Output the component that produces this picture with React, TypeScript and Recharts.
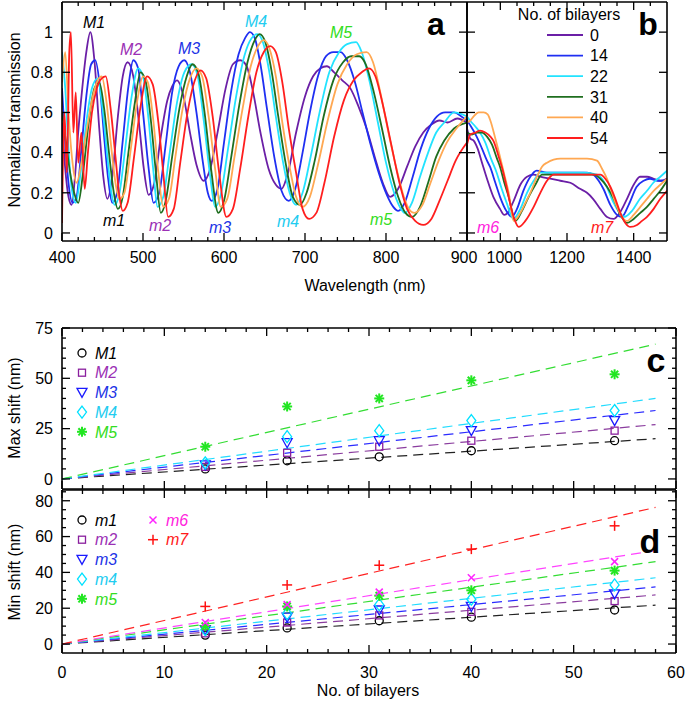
import React from 'react';
import { LineChart, ComposedChart, Line, Scatter, XAxis, YAxis, Legend } from 'recharts';

const FONT = '"Liberation Sans", Arial, Helvetica, sans-serif';

// ---- panel a / b : transmission spectra, [wavelength nm, normalized T] ----
const bilayers = ['0', '14', '22', '31', '40', '54'];
const specColors = ['#6b1fa6', '#1f2ff2', '#22e3ff', '#1f6e1f', '#ffa852', '#ff1e1e'];

const specA0: [number, number][] = [[400,0.55],[404,0.32],[408,0.18],[412,0.14],[416,0.28],[420,0.5],[425,0.72],[430,0.9],[435,1.0],[440,0.86],[446,0.52],[451,0.28],[456,0.17],[462,0.28],[469,0.58],[475,0.78],[481,0.85],[488,0.78],[495,0.55],[501,0.32],[507,0.19],[514,0.25],[522,0.48],[530,0.66],[536,0.73],[542,0.76],[550,0.68],[558,0.5],[566,0.34],[575,0.26],[583,0.32],[592,0.5],[602,0.72],[611,0.84],[620,0.86],[628,0.83],[636,0.7],[645,0.5],[655,0.32],[664,0.24],[671,0.22],[679,0.3],[689,0.5],[700,0.68],[710,0.78],[719,0.82],[727,0.83],[736,0.8],[746,0.76],[756,0.72],[766,0.63],[776,0.52],[786,0.38],[796,0.25],[805,0.18],[815,0.22],[826,0.33],[836,0.43],[846,0.5],[856,0.54],[866,0.56],[876,0.55],[888,0.57],[900,0.55]];
const specA1: [number, number][] = [[400,0.72],[404,0.45],[408,0.25],[413,0.15],[418,0.18],[424,0.42],[430,0.68],[436,0.84],[441,0.86],[447,0.72],[452,0.48],[457,0.27],[462,0.15],[468,0.2],[475,0.46],[482,0.73],[488,0.86],[494,0.82],[500,0.6],[507,0.32],[513,0.15],[520,0.2],[528,0.44],[536,0.7],[544,0.83],[551,0.86],[558,0.8],[566,0.6],[574,0.35],[580,0.2],[585,0.16],[592,0.22],[600,0.45],[609,0.71],[618,0.89],[626,0.97],[632,1.0],[638,0.97],[645,0.84],[653,0.62],[662,0.38],[671,0.21],[680,0.16],[688,0.22],[697,0.4],[706,0.6],[716,0.78],[726,0.88],[735,0.9],[744,0.9],[752,0.86],[761,0.76],[771,0.6],[781,0.44],[791,0.3],[801,0.19],[809,0.13],[815,0.11],[823,0.15],[833,0.28],[843,0.42],[853,0.52],[863,0.58],[873,0.6],[884,0.6],[893,0.58],[900,0.56]];
const specA2: [number, number][] = [[400,0.9],[404,0.72],[408,0.42],[412,0.22],[417,0.15],[423,0.3],[430,0.55],[437,0.72],[444,0.77],[450,0.62],[456,0.38],[461,0.2],[465,0.14],[471,0.2],[478,0.42],[486,0.68],[494,0.82],[500,0.78],[507,0.56],[513,0.3],[518,0.13],[525,0.18],[533,0.4],[542,0.65],[551,0.8],[560,0.84],[567,0.79],[575,0.56],[583,0.28],[589,0.13],[596,0.19],[605,0.42],[615,0.68],[625,0.88],[634,0.97],[641,0.99],[648,0.95],[656,0.8],[664,0.58],[673,0.35],[681,0.2],[689,0.14],[697,0.2],[707,0.38],[718,0.6],[730,0.8],[742,0.9],[752,0.94],[763,0.95],[770,0.9],[780,0.75],[790,0.55],[800,0.35],[810,0.2],[817,0.13],[823,0.1],[832,0.15],[842,0.28],[852,0.4],[862,0.5],[872,0.55],[884,0.6],[900,0.58]];
const specA3: [number, number][] = [[400,0.6],[405,0.45],[410,0.3],[415,0.2],[420,0.15],[426,0.3],[433,0.55],[440,0.72],[446,0.75],[452,0.62],[458,0.4],[464,0.2],[469,0.12],[475,0.18],[482,0.4],[490,0.65],[497,0.8],[503,0.76],[510,0.55],[516,0.3],[522,0.1],[528,0.16],[536,0.38],[545,0.62],[554,0.78],[561,0.84],[568,0.8],[576,0.6],[584,0.32],[593,0.1],[600,0.16],[609,0.38],[619,0.64],[629,0.85],[638,0.96],[644,0.99],[651,0.95],[659,0.8],[667,0.58],[676,0.35],[685,0.18],[694,0.14],[702,0.2],[712,0.36],[723,0.58],[735,0.76],[747,0.85],[757,0.88],[767,0.88],[775,0.84],[785,0.7],[795,0.52],[805,0.33],[815,0.18],[824,0.1],[832,0.08],[842,0.13],[852,0.25],[862,0.38],[872,0.46],[884,0.52],[900,0.55]];
const specA4: [number, number][] = [[400,0.75],[404,0.9],[408,0.6],[413,0.35],[418,0.25],[424,0.35],[430,0.5],[437,0.66],[444,0.76],[449,0.78],[455,0.65],[461,0.42],[466,0.25],[471,0.17],[477,0.2],[485,0.42],[493,0.66],[500,0.78],[506,0.75],[513,0.55],[519,0.3],[525,0.13],[532,0.17],[540,0.38],[549,0.62],[558,0.77],[566,0.82],[573,0.78],[581,0.58],[589,0.32],[596,0.13],[604,0.17],[613,0.38],[623,0.62],[633,0.83],[642,0.93],[649,0.96],[656,0.92],[664,0.78],[672,0.55],[681,0.33],[689,0.18],[697,0.13],[706,0.18],[716,0.34],[728,0.56],[740,0.74],[752,0.84],[764,0.89],[776,0.9],[784,0.85],[793,0.7],[803,0.5],[813,0.32],[822,0.18],[830,0.11],[835,0.1],[845,0.14],[855,0.25],[865,0.36],[875,0.45],[887,0.52],[900,0.58]];
const specA5: [number, number][] = [[400,0.05],[403,0.6],[406,0.3],[409,0.9],[411,1.0],[414,0.5],[417,0.7],[420,0.35],[424,0.5],[428,0.22],[432,0.4],[437,0.6],[443,0.72],[449,0.77],[454,0.78],[460,0.62],[466,0.38],[471,0.18],[475,0.11],[481,0.15],[489,0.38],[497,0.63],[505,0.78],[512,0.74],[519,0.55],[525,0.3],[531,0.08],[538,0.12],[546,0.35],[555,0.6],[564,0.76],[571,0.81],[578,0.77],[586,0.58],[594,0.3],[603,0.08],[611,0.12],[620,0.32],[630,0.58],[640,0.8],[649,0.9],[657,0.93],[664,0.9],[672,0.75],[680,0.52],[689,0.3],[697,0.12],[705,0.07],[714,0.1],[724,0.25],[736,0.48],[748,0.66],[760,0.76],[770,0.8],[779,0.82],[787,0.78],[796,0.64],[806,0.45],[816,0.26],[826,0.12],[836,0.06],[846,0.04],[856,0.07],[866,0.16],[876,0.26],[886,0.36],[900,0.45]];

const specB0: [number, number][] = [[900,0.52],[910,0.47],[920,0.46],[932,0.42],[945,0.35],[960,0.27],[979,0.18],[999,0.12],[1012,0.09],[1022,0.1],[1040,0.16],[1060,0.24],[1080,0.28],[1100,0.29],[1120,0.28],[1150,0.27],[1180,0.26],[1210,0.25],[1239,0.22],[1260,0.2],[1278,0.17],[1300,0.12],[1320,0.08],[1340,0.07],[1358,0.1],[1380,0.17],[1400,0.24],[1419,0.28],[1440,0.28],[1460,0.27],[1480,0.26],[1500,0.27]];
const specB1: [number, number][] = [[900,0.56],[912,0.53],[929,0.48],[945,0.42],[960,0.36],[969,0.33],[985,0.25],[999,0.18],[1018,0.11],[1034,0.08],[1050,0.12],[1069,0.21],[1090,0.28],[1109,0.31],[1140,0.3],[1180,0.3],[1220,0.3],[1260,0.3],[1279,0.29],[1295,0.26],[1309,0.22],[1330,0.14],[1350,0.09],[1364,0.08],[1385,0.14],[1409,0.23],[1430,0.26],[1449,0.27],[1470,0.26],[1490,0.26],[1500,0.27]];
const specB2: [number, number][] = [[900,0.58],[909,0.56],[925,0.53],[939,0.5],[955,0.45],[972,0.37],[989,0.3],[1004,0.22],[1019,0.15],[1039,0.07],[1060,0.12],[1080,0.2],[1100,0.26],[1120,0.3],[1160,0.3],[1200,0.3],[1250,0.3],[1290,0.29],[1305,0.27],[1319,0.23],[1340,0.15],[1358,0.1],[1372,0.08],[1395,0.11],[1419,0.17],[1440,0.21],[1459,0.25],[1480,0.28],[1500,0.31]];
const specB3: [number, number][] = [[900,0.5],[915,0.49],[930,0.5],[945,0.5],[960,0.48],[975,0.44],[990,0.37],[999,0.33],[1012,0.25],[1025,0.18],[1045,0.06],[1065,0.11],[1085,0.18],[1105,0.24],[1125,0.29],[1160,0.29],[1200,0.29],[1240,0.29],[1280,0.29],[1300,0.27],[1320,0.23],[1340,0.17],[1360,0.09],[1380,0.05],[1400,0.07],[1420,0.1],[1440,0.13],[1460,0.17],[1480,0.21],[1500,0.26]];
const specB4: [number, number][] = [[900,0.55],[910,0.56],[920,0.58],[935,0.6],[950,0.6],[962,0.59],[970,0.56],[985,0.47],[999,0.38],[1012,0.29],[1025,0.2],[1040,0.06],[1060,0.1],[1075,0.15],[1090,0.2],[1110,0.28],[1125,0.33],[1140,0.35],[1180,0.37],[1220,0.37],[1260,0.37],[1290,0.36],[1305,0.32],[1320,0.27],[1335,0.2],[1350,0.13],[1365,0.08],[1380,0.06],[1400,0.09],[1420,0.13],[1440,0.17],[1460,0.21],[1480,0.24],[1500,0.27]];
const specB5: [number, number][] = [[900,0.44],[910,0.49],[925,0.5],[939,0.51],[955,0.5],[970,0.48],[979,0.46],[995,0.38],[1009,0.3],[1020,0.22],[1029,0.15],[1042,0.07],[1055,0.03],[1075,0.06],[1100,0.13],[1120,0.2],[1140,0.26],[1160,0.29],[1200,0.29],[1240,0.29],[1280,0.29],[1300,0.29],[1315,0.27],[1330,0.23],[1345,0.17],[1360,0.1],[1375,0.05],[1390,0.03],[1410,0.04],[1425,0.06],[1440,0.08],[1460,0.12],[1480,0.17],[1500,0.21]];

const specA = [specA0, specA1, specA2, specA3, specA4, specA5];
const specB = [specB0, specB1, specB2, specB3, specB4, specB5];

// ---- panel c / d : peak shifts vs number of bilayers ----
const nBilayers = [14, 22, 31, 40, 54];
const maxNames = ['M1', 'M2', 'M3', 'M4', 'M5'];
const maxShift = [
  [5, 9, 11, 14, 19],
  [6, 13, 16, 19, 24],
  [7, 18, 19, 24, 29],
  [8, 21, 24, 29, 34],
  [16, 36, 40, 49, 52],
];
const minNames = ['m1', 'm2', 'm3', 'm4', 'm5', 'm6', 'm7'];
const minShift = [
  [5, 9, 13, 15, 19],
  [6, 12, 16, 18, 24],
  [8, 15, 19, 21, 28],
  [8, 17, 22, 25, 33],
  [10, 21, 27, 30, 41],
  [12, 22, 29, 37, 46],
  [21, 33, 44, 53, 66],
];
// linear fits through the origin: value at n = 0 and n = 58
const fitSpan = [0, 58];
const maxFitEnd = [20, 27, 34, 40, 67];
const minFitEnd = [21.7, 27.4, 31.9, 37, 46, 52.2, 76.3];

const markerKinds = ['circle', 'square', 'triangle', 'diamond', 'star', 'cross', 'plus'];
const markerColors = ['#000000', '#8a1f9e', '#1a1aff', '#00e1ff', '#22e622', '#ff22ff', '#ff1111'];
const fitColors = ['#222222', '#8a3c9e', '#2b2bff', '#22dcff', '#33dd33', '#ff44ff', '#ff2222'];
const labelColors = ['#000000', '#9b30b5', '#2233e6', '#22ccf0', '#33dd22', '#ff22dd', '#ff1a1a'];

const toPts = (arr: [number, number][]) => arr.map(([x, y]) => ({ x, y }));
const range = (a: number, b: number, step: number) => {
  const out: number[] = [];
  for (let v = a; v <= b + 1e-9; v += step) out.push(Math.round(v * 1000) / 1000);
  return out;
};

const AXIS = { stroke: '#000', strokeWidth: 1.6 };
type Side = 'bottom' | 'top' | 'left' | 'right';

// small horizontal nudges so that "900" and "1000" do not touch at the a|b border
const labelNudge: Record<number, number> = { 900: -3, 1000: 4 };

function inwardTick(side: Side, majors: number[], showLabels: boolean, gap = 9) {
  const TickMark = (props: any) => {
    const { x, y, payload } = props;
    const v: number = payload.value;
    const major = majors.some((m) => Math.abs(m - v) < 1e-6);
    const len = major ? 8 : 4;
    let x2 = x;
    let y2 = y;
    if (side === 'bottom') y2 = y - len;
    if (side === 'top') y2 = y + len;
    if (side === 'left') x2 = x + len;
    if (side === 'right') x2 = x - len;
    let label = null;
    if (showLabels && major) {
      label =
        side === 'bottom' ? (
          <text x={x + (labelNudge[v] || 0)} y={y + gap} textAnchor="middle" fontSize={16} fontFamily={FONT} fill="#000">{v}</text>
        ) : (
          <text x={x - gap} y={y} dy="0.36em" textAnchor="end" fontSize={16} fontFamily={FONT} fill="#000">{v}</text>
        );
    }
    return (
      <g>
        <line x1={x} y1={y} x2={x2} y2={y2} stroke="#000" strokeWidth={1.3} />
        {label}
      </g>
    );
  };
  return TickMark;
}

interface FrameOpts {
  xDomain: number[];
  xTicks: number[];
  xMajors: number[];
  xLabels: boolean;
  xGap?: number;
  yDomain: number[];
  yTicks: number[];
  yMajors: number[];
  yLabels: boolean;
}

// axes are 1px thick boxes (a 0 size axis is not drawn); margins take that into account
function frameAxes(o: FrameOpts) {
  const common = { type: 'number' as const, allowDataOverflow: true, interval: 0 as const, tickSize: 0, tickMargin: 0, axisLine: AXIS, tickLine: false };
  return [
    <XAxis key="xb" xAxisId="b" dataKey="x" {...common} domain={o.xDomain} ticks={o.xTicks} height={1} tick={inwardTick('bottom', o.xMajors, o.xLabels, o.xGap)} />,
    <XAxis key="xt" xAxisId="t" orientation="top" dataKey="x" {...common} domain={o.xDomain} ticks={o.xTicks} height={1} tick={inwardTick('top', o.xMajors, false)} />,
    <YAxis key="yl" yAxisId="l" dataKey="y" {...common} domain={o.yDomain} ticks={o.yTicks} width={1} tick={inwardTick('left', o.yMajors, o.yLabels)} />,
    <YAxis key="yr" yAxisId="r" orientation="right" dataKey="y" {...common} domain={o.yDomain} ticks={o.yTicks} width={1} tick={inwardTick('right', o.yMajors, false)} />,
  ];
}

function Marker({ kind, cx, cy, color }: { kind: string; cx: number; cy: number; color: string }) {
  const sw = 1.3;
  switch (kind) {
    case 'circle':
      return <circle cx={cx} cy={cy} r={4} fill="none" stroke={color} strokeWidth={sw} />;
    case 'square':
      return <rect x={cx - 3.5} y={cy - 3.5} width={7} height={7} fill="none" stroke={color} strokeWidth={sw} />;
    case 'triangle':
      return <path d={`M${cx - 5},${cy - 4} L${cx + 5},${cy - 4} L${cx},${cy + 5} Z`} fill="none" stroke={color} strokeWidth={sw} />;
    case 'diamond':
      return <path d={`M${cx},${cy - 6} L${cx + 4.5},${cy} L${cx},${cy + 6} L${cx - 4.5},${cy} Z`} fill="none" stroke={color} strokeWidth={sw} />;
    case 'star':
      return (
        <g stroke={color} strokeWidth={2}>
          <line x1={cx - 5} y1={cy} x2={cx + 5} y2={cy} />
          <line x1={cx} y1={cy - 5} x2={cx} y2={cy + 5} />
          <line x1={cx - 3.6} y1={cy - 3.6} x2={cx + 3.6} y2={cy + 3.6} />
          <line x1={cx - 3.6} y1={cy + 3.6} x2={cx + 3.6} y2={cy - 3.6} />
        </g>
      );
    case 'cross':
      return (
        <g stroke={color} strokeWidth={1.5}>
          <line x1={cx - 3.5} y1={cy - 3.5} x2={cx + 3.5} y2={cy + 3.5} />
          <line x1={cx - 3.5} y1={cy + 3.5} x2={cx + 3.5} y2={cy - 3.5} />
        </g>
      );
    default:
      return (
        <g stroke={color} strokeWidth={1.5}>
          <line x1={cx - 5} y1={cy} x2={cx + 5} y2={cy} />
          <line x1={cx} y1={cy - 5} x2={cx} y2={cy + 5} />
        </g>
      );
  }
}

// legend for the spectra (panel b)
const SpecLegend = () => (
  <svg width={150} height={150} style={{ overflow: 'visible' }}>
    <text x={52} y={20} textAnchor="middle" fontSize={16} fontFamily={FONT} fill="#000">No. of bilayers</text>
    {bilayers.map((b, i) => (
      <g key={b}>
        <line x1={30} x2={66} y1={35 + i * 20.6} y2={35 + i * 20.6} stroke={specColors[i]} strokeWidth={1.8} />
        <text x={73} y={35 + i * 20.6} dy="0.36em" fontSize={16} fontFamily={FONT} fill="#000">{b}</text>
      </g>
    ))}
  </svg>
);

// marker legend for panels c and d
const makeShiftLegend = (names: string[], offset: number, perCol: number) => () => (
  <svg width={160} height={110} style={{ overflow: 'visible' }}>
    {names.map((nm, i) => {
      const k = i + offset;
      const col = Math.floor(i / perCol);
      const row = i % perCol;
      const cx = 20 + col * 71;
      const cy = 8 + row * 19.7;
      return (
        <g key={nm}>
          <Marker kind={markerKinds[k]} cx={cx} cy={cy} color={markerColors[k]} />
          <text x={cx + 13} y={cy} dy="0.36em" fontSize={16} fontStyle="italic" fontFamily={FONT} fill={labelColors[k]}>{nm}</text>
        </g>
      );
    })}
  </svg>
);
const MaxLegend = makeShiftLegend(maxNames, 0, 5);
const MinLegend = makeShiftLegend(minNames, 0, 5);

const legendProps = { layout: 'horizontal' as const, verticalAlign: 'middle' as const, align: 'center' as const };

const annotations = [
  { t: 'M1', x: 94, y: 28, c: 0 },
  { t: 'M2', x: 131, y: 55, c: 1 },
  { t: 'M3', x: 189, y: 54, c: 2 },
  { t: 'M4', x: 256, y: 27, c: 3 },
  { t: 'M5', x: 341, y: 38, c: 4 },
  { t: 'm1', x: 114, y: 226, c: 0 },
  { t: 'm2', x: 160, y: 231, c: 1 },
  { t: 'm3', x: 220, y: 233, c: 2 },
  { t: 'm4', x: 288, y: 227, c: 3 },
  { t: 'm5', x: 381, y: 225, c: 4 },
  { t: 'm6', x: 488, y: 233, c: 5 },
  { t: 'm7', x: 602, y: 233, c: 6 },
];

export default function App() {
  const aFrame = frameAxes({
    xDomain: [400, 900], xTicks: range(400, 900, 20), xMajors: range(400, 900, 100), xLabels: true, xGap: 22,
    yDomain: [-0.04, 1.15], yTicks: [0, 0.2, 0.4, 0.6, 0.8, 1], yMajors: [0, 0.2, 0.4, 0.6, 0.8, 1], yLabels: true,
  });
  const bFrame = frameAxes({
    xDomain: [900, 1500], xTicks: range(950, 1450, 50), xMajors: [1000, 1200, 1400], xLabels: true, xGap: 22,
    yDomain: [-0.04, 1.15], yTicks: [0, 0.2, 0.4, 0.6, 0.8, 1], yMajors: [0, 0.2, 0.4, 0.6, 0.8, 1], yLabels: false,
  });
  const cFrame = frameAxes({
    xDomain: [0, 60], xTicks: range(0, 60, 2), xMajors: range(0, 60, 10), xLabels: false,
    yDomain: [-5, 75], yTicks: range(0, 75, 5), yMajors: [0, 25, 50, 75], yLabels: true,
  });
  const dFrame = frameAxes({
    xDomain: [0, 60], xTicks: range(0, 60, 2), xMajors: range(0, 60, 10), xLabels: true, xGap: 25,
    yDomain: [-5, 86], yTicks: range(0, 85, 5), yMajors: [0, 20, 40, 60, 80], yLabels: true,
  });

  const lineProps = { xAxisId: 'b', yAxisId: 'l', dataKey: 'y', dot: false, isAnimationActive: false, type: 'monotone' as const, strokeWidth: 1.8 };

  return (
    <div style={{ position: 'absolute', left: 0, top: 0, width: 685, height: 708, background: '#fff', fontFamily: FONT }}>
      <div style={{ position: 'absolute', left: 0, top: 0 }}>
        <LineChart width={490} height={300} margin={{ top: 1, right: 22, bottom: 58, left: 61 }}>
          {aFrame}
          {specA.map((s, i) => (
            <Line key={bilayers[i]} {...lineProps} name={bilayers[i]} data={toPts(s)} stroke={specColors[i]} />
          ))}
        </LineChart>
      </div>
      <div style={{ position: 'absolute', left: 440, top: 0 }}>
        <LineChart width={245} height={300} margin={{ top: 1, right: 17, bottom: 58, left: 26 }}>
          {bFrame}
          {specB.map((s, i) => (
            <Line key={bilayers[i]} {...lineProps} name={bilayers[i]} data={toPts(s)} stroke={specColors[i]} />
          ))}
          <Legend {...legendProps} wrapperStyle={{ top: 0, left: 77, width: 150 }} content={SpecLegend} />
        </LineChart>
      </div>
      <div style={{ position: 'absolute', left: 0, top: 310 }}>
        <ComposedChart width={685} height={185} margin={{ top: 17, right: 8, bottom: 5, left: 61 }}>
          {cFrame}
          {maxFitEnd.map((e, i) => (
            <Line key={'fit' + i} {...lineProps} type="linear" strokeWidth={1.2} strokeDasharray="10 6" legendType="none"
              data={[{ x: fitSpan[0], y: 0 }, { x: fitSpan[1], y: e }]} stroke={fitColors[i]} />
          ))}
          {maxShift.map((vals, i) => (
            <Scatter key={maxNames[i]} name={maxNames[i]} xAxisId="b" yAxisId="l" isAnimationActive={false}
              data={nBilayers.map((n, j) => ({ x: n, y: vals[j] }))}
              shape={(p: any) => <Marker kind={markerKinds[i]} cx={p.cx} cy={p.cy} color={markerColors[i]} />} />
          ))}
          <Legend {...legendProps} wrapperStyle={{ top: 35, left: 62, width: 160 }} content={MaxLegend} />
        </ComposedChart>
      </div>
      <div style={{ position: 'absolute', left: 0, top: 480 }}>
        <ComposedChart width={685} height={228} margin={{ top: 9, right: 8, bottom: 54, left: 61 }}>
          {dFrame}
          {minFitEnd.map((e, i) => (
            <Line key={'fit' + i} {...lineProps} type="linear" strokeWidth={1.2} strokeDasharray="10 6" legendType="none"
              data={[{ x: fitSpan[0], y: 0 }, { x: fitSpan[1], y: e }]} stroke={fitColors[i]} />
          ))}
          {minShift.map((vals, i) => (
            <Scatter key={minNames[i]} name={minNames[i]} xAxisId="b" yAxisId="l" isAnimationActive={false}
              data={nBilayers.map((n, j) => ({ x: n, y: vals[j] }))}
              shape={(p: any) => <Marker kind={markerKinds[i]} cx={p.cx} cy={p.cy} color={markerColors[i]} />} />
          ))}
          <Legend {...legendProps} wrapperStyle={{ top: 32, left: 62, width: 160 }} content={MinLegend} />
        </ComposedChart>
      </div>

      <svg width={685} height={708} style={{ position: 'absolute', left: 0, top: 0, pointerEvents: 'none' }} fontFamily={FONT}>
        {annotations.map((a) => (
          <text key={a.t} x={a.x} y={a.y} textAnchor="middle" fontSize={16} fontStyle="italic" fill={labelColors[a.c]}>{a.t}</text>
        ))}
        <text x={436} y={35} textAnchor="middle" fontSize={32} fontWeight="bold" fill="#000">a</text>
        <text x={648} y={35} textAnchor="middle" fontSize={32} fontWeight="bold" fill="#000">b</text>
        <text x={656} y={372} textAnchor="middle" fontSize={34} fontWeight="bold" fill="#000">c</text>
        <text x={650} y={553} textAnchor="middle" fontSize={34} fontWeight="bold" fill="#000">d</text>
        <text x={365} y={291} textAnchor="middle" fontSize={16} fill="#000">Wavelength (nm)</text>
        <text x={368} y={696} textAnchor="middle" fontSize={16} fill="#000">No. of bilayers</text>
        <text transform="translate(20,120) rotate(-90)" textAnchor="middle" fontSize={16} fill="#000">Normalized transmission</text>
        <text transform="translate(20,408) rotate(-90)" textAnchor="middle" fontSize={16} fill="#000">Max shift (nm)</text>
        <text transform="translate(20,572) rotate(-90)" textAnchor="middle" fontSize={16} fill="#000">Min shift (nm)</text>
      </svg>
    </div>
  );
}
